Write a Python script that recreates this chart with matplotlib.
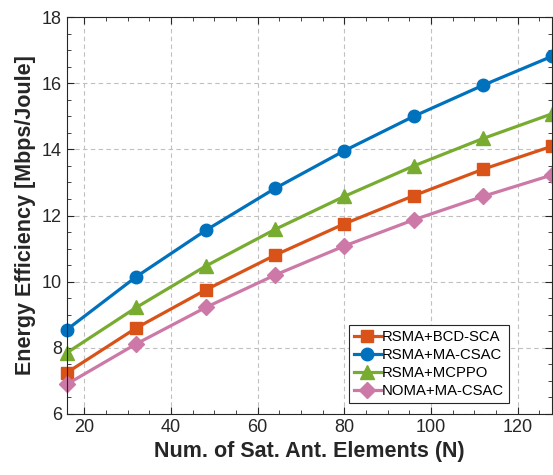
import matplotlib
matplotlib.use("Agg")
import matplotlib.pyplot as plt
from matplotlib.ticker import MultipleLocator

n_elems = [16, 32, 48, 64, 80, 96, 112, 128]
bcd_sca = [7.25, 8.6, 9.75, 10.8, 11.75, 12.6, 13.4, 14.1]
ma_csac = [8.55, 10.15, 11.55, 12.82, 13.96, 15.0, 15.94, 16.82]
mcppo = [7.85, 9.22, 10.47, 11.58, 12.58, 13.5, 14.33, 15.08]
noma_csac = [6.9, 8.12, 9.22, 10.2, 11.08, 11.87, 12.58, 13.23]

plt.rcParams["font.family"] = ["Liberation Sans", "DejaVu Sans"]

fig = plt.figure(figsize=(5.53, 4.75), dpi=100)
ax = fig.add_axes([0.121, 0.1285, 0.878, 0.8355])

lw = 2.3
ax.plot(n_elems, bcd_sca, "-s", color="#D95319", lw=lw, ms=8, label="RSMA+BCD-SCA", clip_on=False)
ax.plot(n_elems, ma_csac, "-o", color="#0072BD", lw=lw, ms=9, label="RSMA+MA-CSAC", clip_on=False)
ax.plot(n_elems, mcppo, "-^", color="#77AC30", lw=lw, ms=10, label="RSMA+MCPPO", clip_on=False)
ax.plot(n_elems, noma_csac, "-D", color="#CC79A7", lw=lw, ms=8, label="NOMA+MA-CSAC", clip_on=False)

ax.set_xlim(16, 128)
ax.set_ylim(6, 18)
ax.xaxis.set_major_locator(MultipleLocator(20))
ax.xaxis.set_minor_locator(MultipleLocator(5))
ax.yaxis.set_major_locator(MultipleLocator(2))
ax.yaxis.set_minor_locator(MultipleLocator(0.5))
ax.tick_params(which="both", direction="in", top=True, right=True, labelsize=13, colors="#262626")
ax.tick_params(which="major", length=5)
ax.tick_params(which="minor", length=3)
ax.grid(True, which="major", ls=(0, (4, 3)), color="#c0c0c0", lw=0.8)
for s in ax.spines.values():
    s.set_color("#262626")
    s.set_linewidth(0.8)

ax.set_xlabel("Num. of Sat. Ant. Elements (N)", fontsize=15.5, fontweight="bold", color="#262626")
ax.set_ylabel("Energy Efficiency [Mbps/Joule]", fontsize=15.5, fontweight="bold", color="#262626")

# legend box sits a little left of the right edge, like the MATLAB original
leg = ax.legend(loc="lower right", fontsize=10.7, fancybox=False, edgecolor="#262626",
                framealpha=1, handlelength=1.8, borderpad=0.3, labelspacing=0.28,
                handletextpad=0.1, markerscale=1.0, borderaxespad=0,
                bbox_to_anchor=(0.91, 0.028))
leg.get_frame().set_linewidth(0.8)

fig.savefig("out.png", dpi=100)
